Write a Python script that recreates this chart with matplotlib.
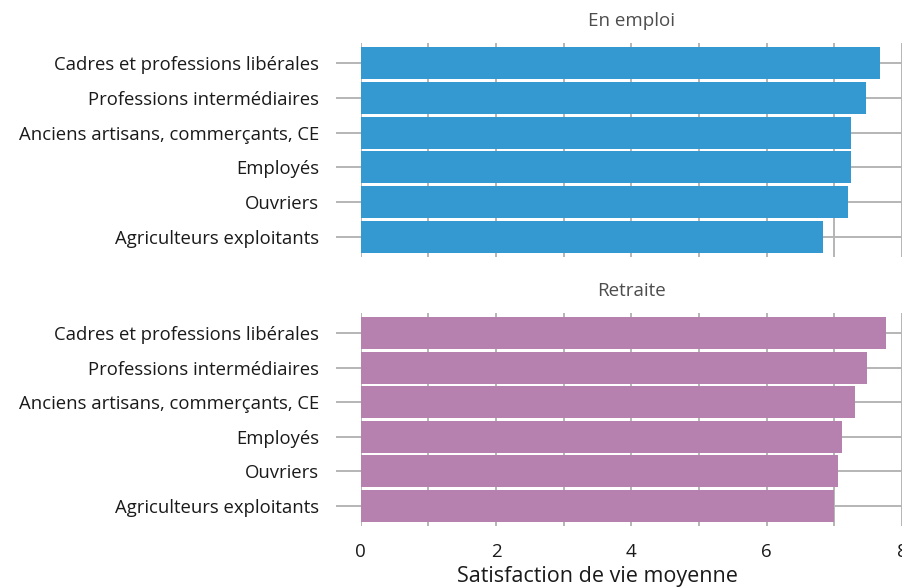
import matplotlib
matplotlib.use("Agg")
import matplotlib.pyplot as plt
import numpy as np

plt.rcParams['font.family'] = ['Open Sans', 'DejaVu Sans']

categories = ["Cadres et professions libérales",
              "Professions intermédiaires",
              "Anciens artisans, commerçants, CE",
              "Employés",
              "Ouvriers",
              "Agriculteurs exploitants"]
en_emploi = [7.68, 7.47, 7.25, 7.25, 7.20, 6.83]
retraite = [7.76, 7.49, 7.30, 7.12, 7.05, 6.99]
panels = ["En emploi", "Retraite"]
x_ticks = [0, 2, 4, 6, 8]

grid_col = "#b5b5b5"

fig = plt.figure(figsize=(9.02, 5.88), dpi=100)
ax_top = fig.add_axes([0.3998, 0.563, 0.6002, 0.364])
ax_bot = fig.add_axes([0.3998, 0.1054, 0.6002, 0.3623])

for ax, vals, title, col in [(ax_top, en_emploi, panels[0], "#3399d0"),
                             (ax_bot, retraite, panels[1], "#b681ae")]:
    y = np.arange(len(categories))
    ax.set_axisbelow(True)
    ax.barh(y, vals, height=0.92, color=col, zorder=2)
    ax.set_xlim(0, 8)
    ax.set_ylim(len(categories) - 0.42, -0.58)
    ax.set_yticks(y)
    ax.set_yticklabels(categories, fontsize=13.3, color="#1a1a1a")
    ax.set_xticks(x_ticks)
    ax.set_xticks(np.arange(0, 9), minor=True)
    ax.grid(True, which="both", axis="x", color=grid_col, lw=1.4)
    ax.grid(True, axis="y", color=grid_col, lw=1.4)
    ax.tick_params(axis="y", length=18, width=1.4, color=grid_col, pad=12)
    ax.tick_params(axis="x", which="both", length=0)
    for s in ax.spines.values():
        s.set_visible(False)
    ax.set_title(title, fontsize=13.5, color="#4d4d4d", pad=12)

ax_top.set_xticklabels([])
ax_bot.tick_params(axis="x", labelsize=13.5, labelcolor="#1a1a1a", pad=12)
fig.text(0.662, 0.02, "Satisfaction de vie moyenne", fontsize=15.5,
         color="#1a1a1a", ha="center", va="center")

fig.savefig("out.png", dpi=100)
